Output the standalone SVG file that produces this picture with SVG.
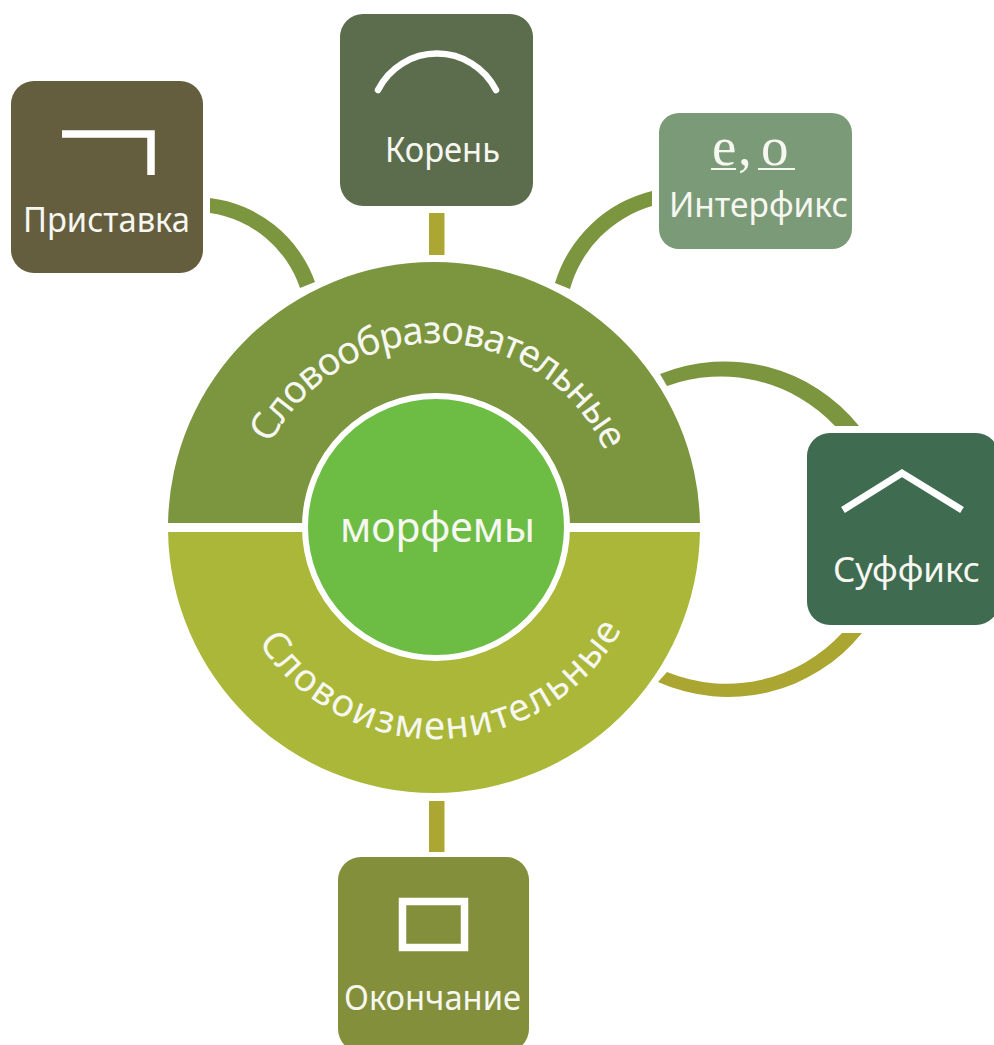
<svg xmlns="http://www.w3.org/2000/svg" width="994" height="1045" viewBox="0 0 994 1045">
<style>
.t{font-family:"Noto Sans","DejaVu Sans",sans-serif;fill:#f6f7f0;font-size:35px}
.a{font-size:38px}
.s{fill:none;stroke:#fff;stroke-width:7.5}
.e{font-family:"Liberation Serif",serif;font-size:55px;fill:#f6f7f0}
.u{stroke:#f6f7f0;stroke-width:2}
</style>
<defs>
<path id="a1" d="M250 529A186 186 0 0 1 622 529"/>
<path id="a2" d="M224 527A212 212 0 0 0 648 527"/>
</defs>
<rect width="994" height="1045" fill="#fff"/>
<g id="connectors">
<path fill="#7c953f" d="M210 198A128 128 0 0 1 315 282L300 288A112 112 0 0 0 210 213Z"/>
<rect x="429" y="213" width="15.5" height="42" fill="#aca732"/>
<path fill="#7c953f" d="M652 191A135 135 0 0 0 555 283L570 289A120 120 0 0 1 652 206Z"/>
<path fill="#7c953f" d="M660 374A172 172 0 0 1 859 426H835A157 157 0 0 0 667 386Z"/>
<path fill="#aba532" d="M658 682A172 172 0 0 0 862 633H842A157 157 0 0 1 667 672Z"/>
<rect x="429" y="801" width="15.5" height="51" fill="#aca732"/>
</g>
<g id="node-outer">
<path d="M168.04 523A266 265.5 0 0 1 699.96 523Z" fill="#7c953f"/>
<path d="M168.04 532A266 265.5 0 0 0 699.96 532Z" fill="#aab738"/>
<text class="t a"><textPath href="#a1" startOffset="88" textLength="416" lengthAdjust="spacing">Словообразовательные</textPath></text>
<text class="t a"><textPath href="#a2" startOffset="122" textLength="437" lengthAdjust="spacing">Словоизменительные</textPath></text>
</g>
<g id="node-center">
<circle cx="436" cy="527" r="131" fill="#6dbd45" stroke="#fff" stroke-width="6"/>
<text class="t" x="340" y="542" textLength="195" lengthAdjust="spacingAndGlyphs" style="font-size:42px">морфемы</text>
</g>
<g id="node-pristavka">
<rect x="11" y="81" width="192" height="192" rx="23" fill="#645e3f"/>
<path class="s" d="M62 134H151V175"/>
<text class="t" x="23" y="232" textLength="167" lengthAdjust="spacingAndGlyphs">Приставка</text>
</g>
<g id="node-koren">
<rect x="340" y="14" width="193" height="192" rx="23" fill="#5c6d4e"/>
<path class="s" stroke-linecap="round" style="stroke-width:6.5" d="M378 90A66 66 0 0 1 496 90"/>
<text class="t" x="385" y="162" textLength="115" lengthAdjust="spacingAndGlyphs">Корень</text>
</g>
<g id="node-interfiks">
<rect x="659" y="113" width="193" height="136" rx="20" fill="#7b9a78"/>
<text class="e" y="165"><tspan x="712">е</tspan><tspan x="738">,</tspan><tspan x="761">о</tspan></text>
<path class="u" d="M711 169H736M758 169H795"/>
<text class="t" x="669" y="217" textLength="179" lengthAdjust="spacingAndGlyphs">Интерфикс</text>
</g>
<g id="node-suffiks">
<rect x="807" y="433" width="192" height="192" rx="23" fill="#3f6b50"/>
<path class="s" style="stroke-width:7" d="M843 510L902 473L962 510"/>
<text class="t" x="833" y="582" textLength="147" lengthAdjust="spacingAndGlyphs">Суффикс</text>
</g>
<g id="node-okonchanie">
<rect x="338" y="857" width="191" height="195" rx="23" fill="#838f3a"/>
<rect class="s" x="402.5" y="901.5" width="62" height="46"/>
<text class="t" x="344" y="1010" textLength="177" lengthAdjust="spacingAndGlyphs">Окончание</text>
</g>
</svg>
